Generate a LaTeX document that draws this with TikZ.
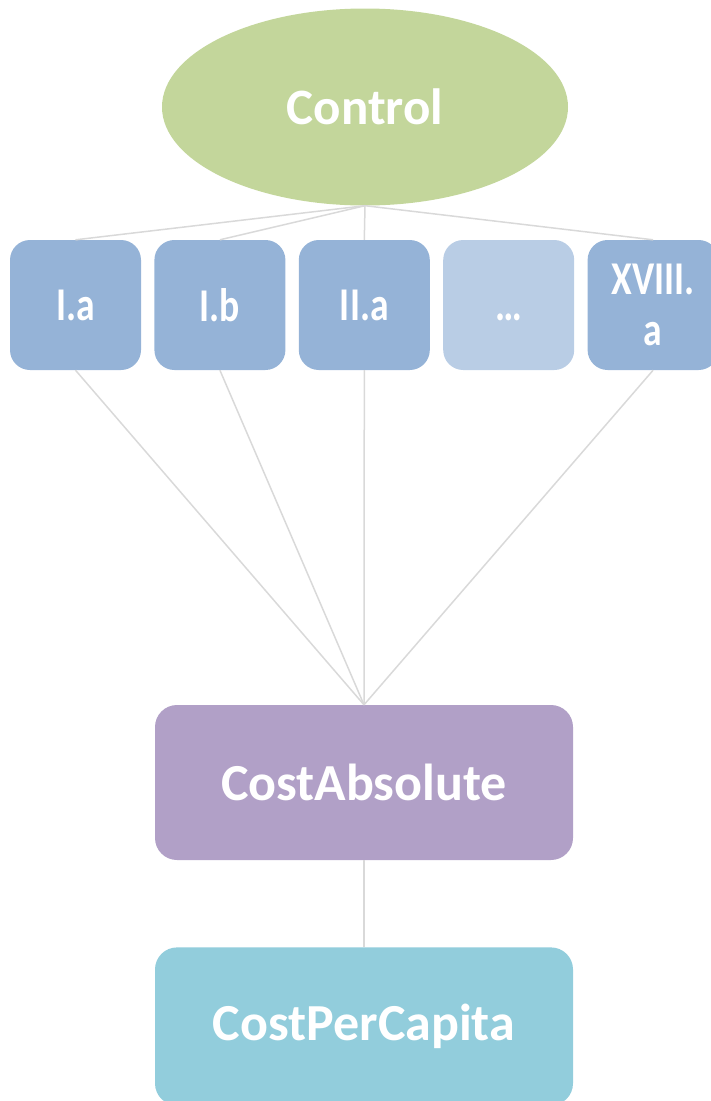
\documentclass[tikz,border=0pt]{standalone}
\usepackage{fontspec}
\setmainfont{Carlito}
\newfontfamily\narrowfont{Carlito}[FakeStretch=0.8]
\usetikzlibrary{shapes.geometric, positioning}

\definecolor{ctrlgreen}{HTML}{C3D69B}
\definecolor{catblue}{HTML}{95B3D7}
\definecolor{catpale}{HTML}{B9CDE5}
\definecolor{abspurple}{HTML}{B1A0C7}
\definecolor{capcyan}{HTML}{92CDDC}
\definecolor{linkgray}{HTML}{D9D9D9}

\begin{document}
\begin{tikzpicture}[
    x=1pt, y=-1pt,
    ctrlnode/.style={ellipse, fill=ctrlgreen, minimum width=406pt, minimum height=197pt, inner sep=0pt,
        text=white, font=\fontsize{51}{60}\selectfont\bfseries},
    catbox/.style={rounded corners=20pt, fill=catblue, minimum width=131pt, minimum height=130pt, inner sep=0pt,
        text=white, align=center, font=\narrowfont\fontsize{47}{51}\selectfont\bfseries},
    palebox/.style={catbox, fill=catpale},
    bigbox/.style={rounded corners=22pt, fill=abspurple, minimum width=418pt, minimum height=155pt, inner sep=0pt,
        text=white, font=\fontsize{52}{60}\selectfont\bfseries},
    link/.style={draw=linkgray, line width=1.5pt}
]
    \useasboundingbox (0,0) rectangle (710,1101);

    \node[ctrlnode] (ctrl) at (365,107) {Control};

    \node[catbox] (ia) at (75.5,305) {I.a};
    \node[catbox, right=13pt of ia] (ib) {I.b};
    \node[catbox, right=13pt of ib] (iia) {II.a};
    \node[palebox, right=13pt of iia] (dots) {\vphantom{I.a}\dots};
    \node[catbox, right=13pt of dots] (xviiia) {XVIII.\\a};

    \node[bigbox] (abs) at (364,782.5) {CostAbsolute};
    \node[bigbox, fill=capcyan, minimum height=158pt, below=87pt of abs] (percap) {CostPerCapita};

    % links from the control
    \foreach \n in {ia, ib, iia, xviiia}
        \draw[link] (ctrl.south) -- (\n.north);
    % links into the absolute cost
    \foreach \n in {ia, ib, iia, xviiia}
        \draw[link] (\n.south) -- (abs.north);
    \draw[link] (abs.south) -- (percap.north);

\end{tikzpicture}
\end{document}
